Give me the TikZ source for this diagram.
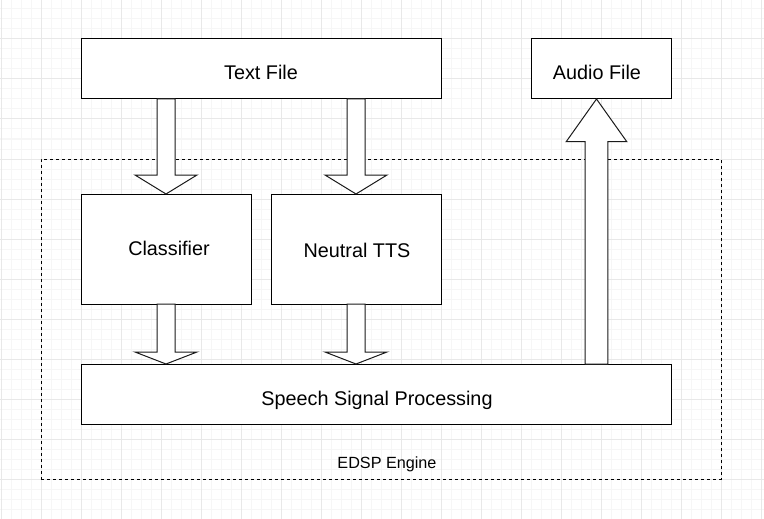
\documentclass[tikz,border=0pt]{standalone}
\usepackage{fontspec}
\setmainfont{Liberation Sans}
\usetikzlibrary{calc}
\definecolor{gridmajor}{HTML}{E8E8E8}
\definecolor{gridminor}{HTML}{F6F6F6}
\definecolor{arrowline}{HTML}{1A1A1A}
\tikzset{
  boxnode/.style={draw=black, line width=1pt, fill=white, inner sep=0pt, outer sep=0pt,
    font=\fontsize{19.8}{22}\selectfont, text depth=0pt},
  engbox/.style={draw=black, line width=0.9pt, dash pattern=on 3pt off 3pt, inner sep=0pt, outer sep=0pt},
  blk/.style={draw=arrowline, line width=1pt, fill=white, line join=miter},
  plain/.style={inner sep=0pt, outer sep=0pt},
}
\newcommand\bdown[6]{%
  \draw[blk] let \p1=(#1.south), \p2=(#2.north) in
    (#3-#4,\y1) -- (#3-#4,\y2+#6) -- (#3-#5,\y2+#6) -- (#3,\y2) --
    (#3+#5,\y2+#6) -- (#3+#4,\y2+#6) -- (#3+#4,\y1) -- cycle;}
\newcommand\bup[6]{%
  \draw[blk] let \p1=(#1.north), \p2=(#2.south) in
    (#3-#4,\y1) -- (#3-#4,\y2-#6) -- (#3-#5,\y2-#6) -- (#3,\y2) --
    (#3+#5,\y2-#6) -- (#3+#4,\y2-#6) -- (#3+#4,\y1) -- cycle;}
\begin{document}
\begin{tikzpicture}
\useasboundingbox (0pt,0pt) rectangle (764pt,-519pt);
\fill[white] (0pt,0pt) rectangle (764pt,-519pt);
% grid
\foreach \i in {0,...,76} \draw[gridminor, line width=1pt] (\i*10pt+1pt,0pt) -- (\i*10pt+1pt,-519pt);
\foreach \j in {0,...,52} \draw[gridminor, line width=1pt] (0pt,-\j*10pt+1pt) -- (764pt,-\j*10pt+1pt);
\foreach \i in {0,...,19} \draw[gridmajor, line width=1pt] (\i*40pt+1pt,0pt) -- (\i*40pt+1pt,-519pt);
\foreach \j in {0,...,13} \draw[gridmajor, line width=1pt] (0pt,-\j*40pt+1pt) -- (764pt,-\j*40pt+1pt);
% engine frame
\node[engbox, minimum width=680pt, minimum height=320pt] (engine) at (381pt,-319pt) {};
\node[plain, anchor=base, font=\fontsize{16.2}{18}\selectfont] (enginelabel) at (387pt,-468.3pt) {EDSP Engine};
% boxes
\node[boxnode, minimum width=360pt, minimum height=60pt, text height=22pt] (textfile) at (261pt,-69pt) {Text File};
\node[boxnode, minimum width=140pt, minimum height=60pt, text height=22pt] (audiofile) at (601pt,-69pt) {\hspace*{-8pt}Audio File};
\node[boxnode, minimum width=170pt, minimum height=110pt, text height=13.4pt] (classifier) at (166pt,-249pt) {\hspace*{6pt}Classifier};
\node[boxnode, minimum width=170pt, minimum height=110pt, text height=17.4pt] (neutral) at (356pt,-249pt) {\hspace*{2pt}Neutral TTS};
\node[boxnode, minimum width=590pt, minimum height=60pt, text height=22pt] (ssp) at (376pt,-394pt) {\hspace*{2pt}Speech Signal Processing};
% block arrows
\bdown{textfile}{classifier}{166pt}{9pt}{31pt}{19pt}
\bdown{textfile}{neutral}{356pt}{9pt}{31pt}{19pt}
\bdown{classifier}{ssp}{166pt}{9pt}{31pt}{12pt}
\bdown{neutral}{ssp}{356pt}{9pt}{31pt}{12pt}
\bup{ssp}{audiofile}{596.5pt}{11.3pt}{30.3pt}{42.7pt}
\end{tikzpicture}
\end{document}
